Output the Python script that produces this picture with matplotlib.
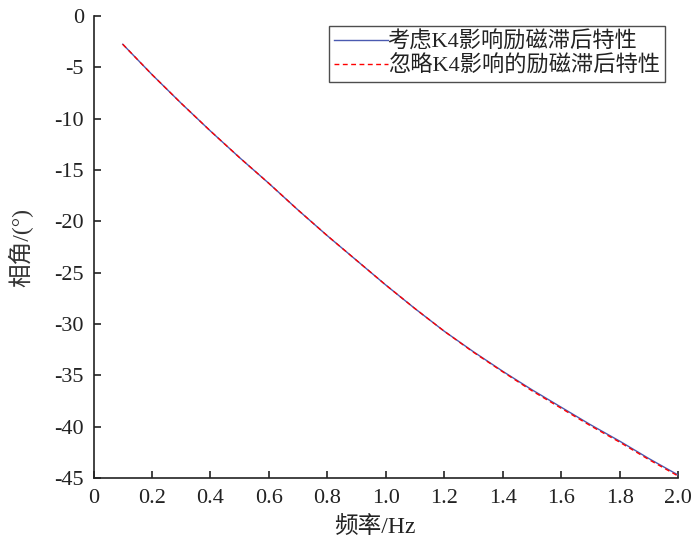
import matplotlib
matplotlib.use("Agg")
import matplotlib.pyplot as plt

plt.rcParams['font.family'] = ['Liberation Serif', 'Noto Sans CJK SC', 'DejaVu Sans']
plt.rcParams['axes.unicode_minus'] = False

# Data
freq = [0.1, 0.2, 0.3, 0.4, 0.5, 0.6, 0.7, 0.8, 0.9, 1.0,
        1.1, 1.2, 1.3, 1.4, 1.5, 1.6, 1.7, 1.8, 1.9, 2.0]
phase_k4 = [-2.75, -5.7, -8.5, -11.2, -13.8, -16.3, -18.9, -21.4, -23.8, -26.2,
            -28.5, -30.7, -32.7, -34.6, -36.4, -38.1, -39.8, -41.4, -43.1, -44.7]
phase_no_k4 = [-2.75, -5.7, -8.5, -11.2, -13.8, -16.3, -18.9, -21.4, -23.8, -26.2,
               -28.5, -30.7, -32.75, -34.65, -36.5, -38.2, -39.9, -41.5, -43.2, -44.8]

xticks = [0, 0.2, 0.4, 0.6, 0.8, 1.0, 1.2, 1.4, 1.6, 1.8, 2.0]
xticklabels = ['0', '0.2', '0.4', '0.6', '0.8', '1.0', '1.2', '1.4', '1.6', '1.8', '2.0']
yticks = [0, -5, -10, -15, -20, -25, -30, -35, -40, -45]
yticklabels = ['0', '-5', '-10', '-15', '-20', '-25', '-30', '-35', '-40', '-45']

label_k4 = '考虑K4影响励磁滞后特性'
label_no_k4 = '忽略K4影响的励磁滞后特性'
xlabel = '频率/Hz'
ylabel = '相角/(°)'

fig = plt.figure(figsize=(7.0, 5.45), dpi=100)
ax = fig.add_axes([0.1336, 0.1229, 0.8350, 0.8477])

ax.plot(freq, phase_k4, color='#4a5ab0', lw=1.0, label=label_k4)
ax.plot(freq, phase_no_k4, color='red', lw=1.0, dashes=(3.5, 2.5), label=label_no_k4)

ax.set_xlim(0, 2.0)
ax.set_ylim(-45, 0)
ax.set_xticks(xticks)
ax.set_xticklabels(xticklabels)
ax.set_yticks(yticks)
ax.set_yticklabels(yticklabels)

for s in ['top', 'right']:
    ax.spines[s].set_visible(False)
for s in ['left', 'bottom']:
    ax.spines[s].set_linewidth(1.2)
    ax.spines[s].set_color('#222222')

ax.tick_params(axis='both', direction='in', length=5, width=1.2,
               labelsize=16, colors='#222222')
ax.tick_params(axis='x', pad=8)
ax.tick_params(axis='y', pad=7)

leg = ax.legend(loc='upper right', bbox_to_anchor=(0.978, 0.978),
                fontsize=16, frameon=True, fancybox=False,
                handlelength=2.4, handletextpad=0.0, borderpad=0.25,
                labelspacing=0.12, borderaxespad=0.0)
leg.get_frame().set_edgecolor('#222222')
leg.get_frame().set_linewidth(1.0)
for t in leg.get_texts():
    t.set_color('#222222')

fig.text(0.536, 0.033, xlabel, fontsize=17, ha='center', va='center', color='#222222')
fig.text(0.03, 0.545, ylabel, fontsize=17, ha='center', va='center',
         rotation=90, color='#333333')

fig.savefig('out.png', dpi=100)
